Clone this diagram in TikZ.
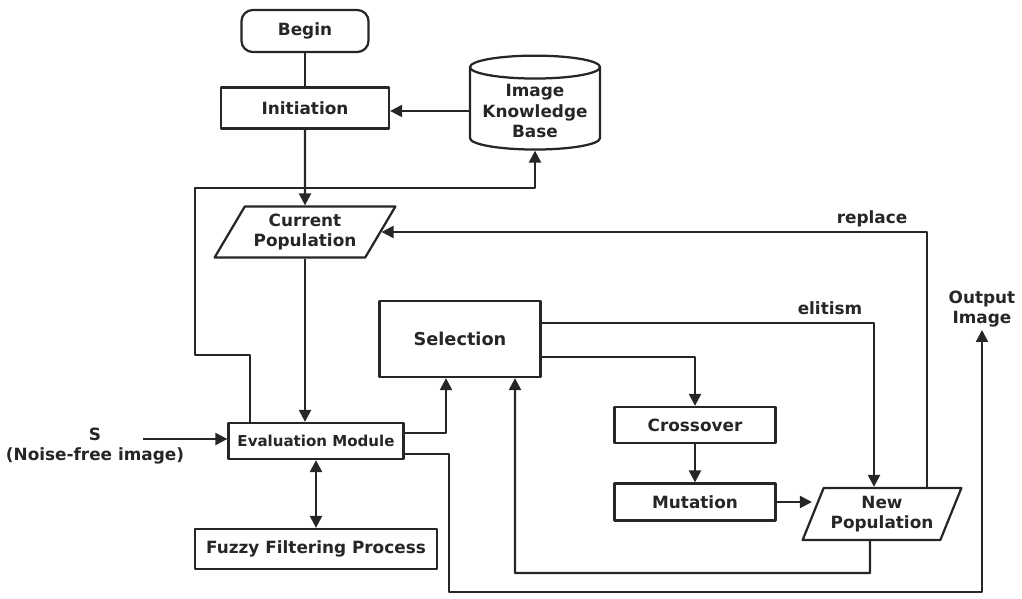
\documentclass[tikz,border=0pt]{standalone}
\usepackage{fontspec}
\setmainfont{DejaVu Sans}
\usetikzlibrary{shapes.geometric,arrows.meta}
\begin{document}
\begin{tikzpicture}[x=0.025cm,y=-0.025cm,line join=round,line width=1.6pt,color=black!85,
		>={Triangle[length=8.5pt,width=8.5pt]},
		font=\fontsize{12}{14.5}\selectfont\bfseries,
		box/.style={draw,rectangle,align=center,inner sep=2pt},
		para/.style={draw,trapezium,trapezium stretches=true,align=center,inner sep=1pt},
		lbl/.style={align=center,inner sep=1pt}]
			\useasboundingbox (0,0) rectangle (1022,599);
			% blocks
			\node[box,rounded corners=8pt,minimum width=3.175cm,minimum height=1.05cm] (begin) at (305,31) {Begin};
			\node[box,minimum width=4.2cm,minimum height=1.025cm] (init) at (305,108) {Initiation};
			\node[draw,cylinder,shape border rotate=90,aspect=0.2,align=center,minimum width=3.25cm,minimum height=2.3cm] (kb) at (535,111) {Image\\Knowledge\\Base};
			\node[para,trapezium left angle=56,trapezium right angle=124,minimum width=4.525cm,minimum height=1.275cm] (cp) at (305,232) {Current\\Population};
			\node[box,font=\fontsize{10.7}{13}\selectfont\bfseries,minimum width=4.375cm,minimum height=0.9cm] (ev) at (316,441) {Evaluation Module};
			\node[box,minimum width=6.05cm,minimum height=1cm] (ff) at (316,549) {Fuzzy Filtering Process};
			\node[box,font=\fontsize{12.6}{15}\selectfont\bfseries,minimum width=4.025cm,minimum height=1.9cm] (sel) at (460,339) {Selection};
			\node[box,minimum width=4.025cm,minimum height=0.9cm] (co) at (695,425) {Crossover};
			\node[box,minimum width=4.025cm,minimum height=0.925cm] (mu) at (695,502) {Mutation};
			\node[para,trapezium left angle=64,trapezium right angle=116,minimum width=3.975cm,minimum height=1.3cm] (np) at (882,514) {New\\Population};
			% labels
			\node[lbl] (src) at (95,446) {S\\(Noise-free image)};
			\node[lbl,anchor=south] (out) at (982,330) {Output\\Image};
			\node[lbl] (rep) at (872,219) {replace};
			\node[lbl] (eli) at (830,308) {elitism};
			\path
			(143,439) coordinate (srcend)
			(195,355) coordinate (fbA)
			(195,188) coordinate (fbB)
			(449,592) coordinate (outA)
			(515,573) coordinate (loopB)
			;
			% connectors
			\draw (begin) -- (init);
			\draw[->] (kb.west) -- (kb.west -| init.east);
			\draw[->] (init) -- (cp);
			\draw[->] (cp.south) -- (cp.south |- ev.north);
			\draw[->] ([xshift=-1.65cm]ev.north) |- (fbA) -- (fbB) -| (kb.south);
			\draw[->] (srcend) -- (srcend -| ev.west);
			\draw[<->] (ev) -- (ff);
			\draw[->] ([yshift=0.2cm]ev.east) -| ([xshift=-0.35cm]sel.south);
			\draw[->] ([yshift=-0.325cm]ev.east) -| (outA) -| (out.south);
			\draw[->] ([yshift=0.4cm]sel.east) -| ([xshift=-0.2cm]np.north);
			\draw[->] ([yshift=-0.45cm]sel.east) -| (co.north);
			\draw[->] (co) -- (mu);
			\draw[->] (mu.east) -- (mu.east -| np.west);
			\draw[->] ([xshift=1.125cm]np.north) |- (cp.east);
			\draw[->] ([xshift=-0.3cm]np.south) |- (loopB) -- ([xshift=1.375cm]sel.south);
		\end{tikzpicture}
\end{document}
